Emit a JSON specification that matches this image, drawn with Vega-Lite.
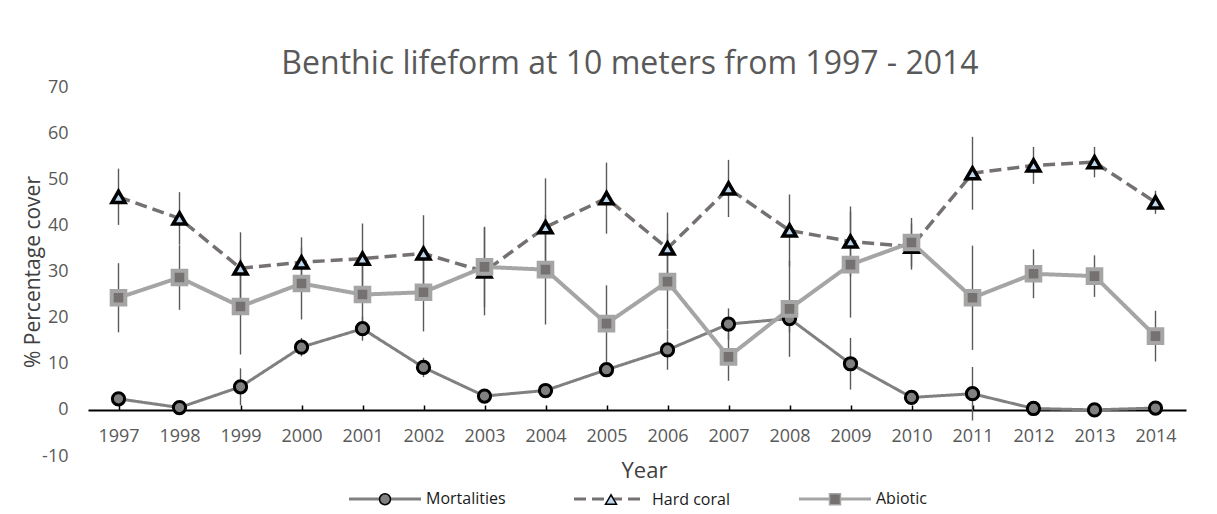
{
  "$schema": "https://vega.github.io/schema/vega-lite/v6.json",
  "width": 1098,
  "height": 369,
  "autosize": {"type": "none"},
  "padding": {"left": 88, "top": 87, "right": 31, "bottom": 58},
  "background": "white",
  "title": {"text": "Benthic lifeform at 10 meters from 1997 - 2014", "fontSize": 32, "font": "Open Sans", "fontWeight": "normal", "color": "#595959", "offset": -3, "dx": -7},
  "config": {"view": {"stroke": null}, "font": "Open Sans"},
  "data": {"values": [
    {"year": 1997, "series": "Mortalities", "value": 2.4, "lo": 0.9, "hi": 3.9},
    {"year": 1998, "series": "Mortalities", "value": 0.5, "lo": 0, "hi": 1.0},
    {"year": 1999, "series": "Mortalities", "value": 5, "lo": 1, "hi": 9},
    {"year": 2000, "series": "Mortalities", "value": 13.6, "lo": 11.6, "hi": 15.6},
    {"year": 2001, "series": "Mortalities", "value": 17.6, "lo": 15, "hi": 20.2},
    {"year": 2002, "series": "Mortalities", "value": 9.2, "lo": 7.1, "hi": 11.3},
    {"year": 2003, "series": "Mortalities", "value": 3, "lo": 2, "hi": 4},
    {"year": 2004, "series": "Mortalities", "value": 4.2, "lo": 3.2, "hi": 5.2},
    {"year": 2005, "series": "Mortalities", "value": 8.7, "lo": 7.2, "hi": 10.2},
    {"year": 2006, "series": "Mortalities", "value": 13, "lo": 8.7, "hi": 17.3},
    {"year": 2007, "series": "Mortalities", "value": 18.6, "lo": 15.2, "hi": 22},
    {"year": 2008, "series": "Mortalities", "value": 19.8, "lo": 16.8, "hi": 22.8},
    {"year": 2009, "series": "Mortalities", "value": 10, "lo": 4.4, "hi": 15.6},
    {"year": 2010, "series": "Mortalities", "value": 2.7, "lo": 1.2, "hi": 4.2},
    {"year": 2011, "series": "Mortalities", "value": 3.5, "lo": -2.3, "hi": 9.3},
    {"year": 2012, "series": "Mortalities", "value": 0.3, "lo": -0.2, "hi": 0.8},
    {"year": 2013, "series": "Mortalities", "value": 0, "lo": -0.3, "hi": 0.3},
    {"year": 2014, "series": "Mortalities", "value": 0.4, "lo": -0.1, "hi": 0.9},
    {"year": 1997, "series": "Hard coral", "value": 46.2, "lo": 40.1, "hi": 52.3},
    {"year": 1998, "series": "Hard coral", "value": 41.5, "lo": 35.8, "hi": 47.2},
    {"year": 1999, "series": "Hard coral", "value": 30.7, "lo": 22.9, "hi": 38.5},
    {"year": 2000, "series": "Hard coral", "value": 32, "lo": 26.6, "hi": 37.4},
    {"year": 2001, "series": "Hard coral", "value": 32.8, "lo": 25.2, "hi": 40.4},
    {"year": 2002, "series": "Hard coral", "value": 33.9, "lo": 25.6, "hi": 42.2},
    {"year": 2003, "series": "Hard coral", "value": 30, "lo": 20.5, "hi": 39.5},
    {"year": 2004, "series": "Hard coral", "value": 39.6, "lo": 29, "hi": 50.2},
    {"year": 2005, "series": "Hard coral", "value": 45.9, "lo": 38.2, "hi": 53.6},
    {"year": 2006, "series": "Hard coral", "value": 35, "lo": 27.2, "hi": 42.8},
    {"year": 2007, "series": "Hard coral", "value": 48, "lo": 41.8, "hi": 54.2},
    {"year": 2008, "series": "Hard coral", "value": 38.9, "lo": 31.1, "hi": 46.7},
    {"year": 2009, "series": "Hard coral", "value": 36.5, "lo": 28.9, "hi": 44.1},
    {"year": 2010, "series": "Hard coral", "value": 35.4, "lo": 30.4, "hi": 40.4},
    {"year": 2011, "series": "Hard coral", "value": 51.3, "lo": 43.4, "hi": 59.2},
    {"year": 2012, "series": "Hard coral", "value": 53, "lo": 49, "hi": 57},
    {"year": 2013, "series": "Hard coral", "value": 53.7, "lo": 50.4, "hi": 57},
    {"year": 2014, "series": "Hard coral", "value": 45, "lo": 42.5, "hi": 47.5},
    {"year": 1997, "series": "Abiotic", "value": 24.3, "lo": 16.8, "hi": 31.8},
    {"year": 1998, "series": "Abiotic", "value": 28.7, "lo": 21.7, "hi": 35.7},
    {"year": 1999, "series": "Abiotic", "value": 22.4, "lo": 12, "hi": 32.8},
    {"year": 2000, "series": "Abiotic", "value": 27.4, "lo": 19.6, "hi": 35.2},
    {"year": 2001, "series": "Abiotic", "value": 25, "lo": 17, "hi": 33},
    {"year": 2002, "series": "Abiotic", "value": 25.5, "lo": 17, "hi": 34},
    {"year": 2003, "series": "Abiotic", "value": 31, "lo": 22.3, "hi": 39.7},
    {"year": 2004, "series": "Abiotic", "value": 30.4, "lo": 18.5, "hi": 42.3},
    {"year": 2005, "series": "Abiotic", "value": 18.7, "lo": 10.4, "hi": 27},
    {"year": 2006, "series": "Abiotic", "value": 27.8, "lo": 17.4, "hi": 38.2},
    {"year": 2007, "series": "Abiotic", "value": 11.5, "lo": 6.3, "hi": 16.7},
    {"year": 2008, "series": "Abiotic", "value": 21.9, "lo": 11.5, "hi": 32.3},
    {"year": 2009, "series": "Abiotic", "value": 31.5, "lo": 20, "hi": 43},
    {"year": 2010, "series": "Abiotic", "value": 36.3, "lo": 31, "hi": 41.6},
    {"year": 2011, "series": "Abiotic", "value": 24.3, "lo": 13, "hi": 35.6},
    {"year": 2012, "series": "Abiotic", "value": 29.5, "lo": 24.2, "hi": 34.8},
    {"year": 2013, "series": "Abiotic", "value": 29, "lo": 24.5, "hi": 33.5},
    {"year": 2014, "series": "Abiotic", "value": 16, "lo": 10.5, "hi": 21.5}
  ]},
  "encoding": {
    "x": {
      "field": "year", "type": "ordinal",
      "scale": {"type": "point", "padding": 0.5},
      "axis": {
        "title": "Year", "labelAngle": 0, "offset": -46, "grid": false,
        "domainColor": "#000000", "domainWidth": 2,
        "tickColor": "#000000", "tickWidth": 1.5, "tickSize": -5,
        "labelPadding": 22, "labelFontSize": 18, "labelColor": "#595959", "labelFont": "Open Sans",
        "titleFont": "Open Sans", "titleFontSize": 22, "titleFontWeight": "normal", "titleColor": "#404040",
        "titleX": 556, "titleY": 60, "titleBaseline": "middle", "titleAlign": "center"
      }
    }
  },
  "layer": [
    {
      "mark": {"type": "rule", "color": "#595959", "strokeWidth": 1.4},
      "encoding": {
        "y": {"field": "lo", "type": "quantitative", "title": "% Percentage cover",
          "scale": {"domain": [-10, 70], "nice": false, "zero": false},
          "axis": {"values": [-10, 0, 10, 20, 30, 40, 50, 60, 70], "labelExpr": "'' + datum.value", "domain": false, "ticks": false, "grid": false,
            "labelPadding": 20, "labelFontSize": 18, "labelColor": "#595959", "labelFont": "Open Sans",
            "title": "% Percentage cover", "titleFont": "Open Sans", "titleFontSize": 21, "titleFontWeight": "normal", "titleColor": "#404040",
            "titleX": -55, "titleY": 184.5, "titleAngle": -90, "titleAlign": "center", "titleBaseline": "middle"}},
        "y2": {"field": "hi"}
      }
    },
    {
      "mark": {"type": "line"},
      "encoding": {
        "y": {"field": "value", "type": "quantitative", "title": "% Percentage cover"},
        "strokeWidth": {"field": "series", "type": "ordinal", "legend": null,
          "scale": {"domain": ["Mortalities", "Hard coral", "Abiotic"], "range": [3, 4, 3.4]}},
        "color": {"field": "series", "type": "nominal",
          "scale": {"domain": ["Mortalities", "Hard coral", "Abiotic"], "range": ["#808080", "#767171", "#a5a5a5"]},
          "legend": {"orient": "none", "legendX": 289, "legendY": 404, "direction": "horizontal", "title": null, "padding": 0,
            "symbolType": "M-6.857,0H6.857", "symbolSize": 110.25, "symbolStrokeWidth": 3,
            "labelOffset": 33, "columnPadding": 141, "labelFontSize": 16, "labelFont": "Open Sans", "labelExpr": "''"}},
        "strokeDash": {"field": "series", "type": "nominal",
          "scale": {"domain": ["Mortalities", "Hard coral", "Abiotic"], "range": [[1, 0], [12, 6], [1, 0]]},
          "legend": {"orient": "none", "legendX": 289, "legendY": 404, "direction": "horizontal", "title": null, "padding": 0,
            "symbolType": "M-6.857,0H6.857", "symbolSize": 110.25, "symbolStrokeWidth": 3,
            "labelOffset": 33, "columnPadding": 141, "labelFontSize": 16, "labelFont": "Open Sans", "labelExpr": "''"}}
      }
    },
    {
      "mark": {"type": "point", "filled": true, "opacity": 1},
      "encoding": {
        "y": {"field": "value", "type": "quantitative", "title": "% Percentage cover"},
        "size": {"field": "series", "type": "ordinal", "legend": null,
          "scale": {"domain": ["Mortalities", "Hard coral", "Abiotic"], "range": [150, 185, 140]}},
        "strokeWidth": {"field": "series", "type": "ordinal", "legend": null,
          "scale": {"domain": ["Mortalities", "Hard coral", "Abiotic"], "range": [1.6, 2.6, 2.5]}},
        "shape": {"field": "series", "type": "nominal",
          "scale": {"domain": ["Mortalities", "Hard coral", "Abiotic"], "range": ["circle", "triangle-up", "square"]},
          "legend": {"orient": "none", "legendX": 289, "legendY": 404, "direction": "horizontal", "title": null, "padding": 0,
            "symbolSize": 120, "symbolStrokeWidth": 1.5, "symbolOpacity": 1,
            "labelOffset": 33, "columnPadding": 96, "labelFontSize": 16, "labelFont": "Open Sans", "labelColor": "#1a1a1a"}},
        "fill": {"field": "series", "type": "nominal",
          "scale": {"domain": ["Mortalities", "Hard coral", "Abiotic"], "range": ["#808080", "#bdd7ee", "#767171"]},
          "legend": {"orient": "none", "legendX": 289, "legendY": 404, "direction": "horizontal", "title": null, "padding": 0,
            "symbolSize": 120, "symbolStrokeWidth": 1.5, "symbolOpacity": 1,
            "labelOffset": 33, "columnPadding": 96, "labelFontSize": 16, "labelFont": "Open Sans", "labelColor": "#1a1a1a"}},
        "stroke": {"field": "series", "type": "nominal",
          "scale": {"domain": ["Mortalities", "Hard coral", "Abiotic"], "range": ["#000000", "#000000", "#a5a5a5"]},
          "legend": {"orient": "none", "legendX": 289, "legendY": 404, "direction": "horizontal", "title": null, "padding": 0,
            "symbolSize": 120, "symbolStrokeWidth": 1.5, "symbolOpacity": 1,
            "labelOffset": 33, "columnPadding": 96, "labelFontSize": 16, "labelFont": "Open Sans", "labelColor": "#1a1a1a"}}
      }
    }
  ],
  "resolve": {"legend": {"color": "independent", "strokeDash": "independent", "shape": "independent", "fill": "independent", "stroke": "independent"}}
}
